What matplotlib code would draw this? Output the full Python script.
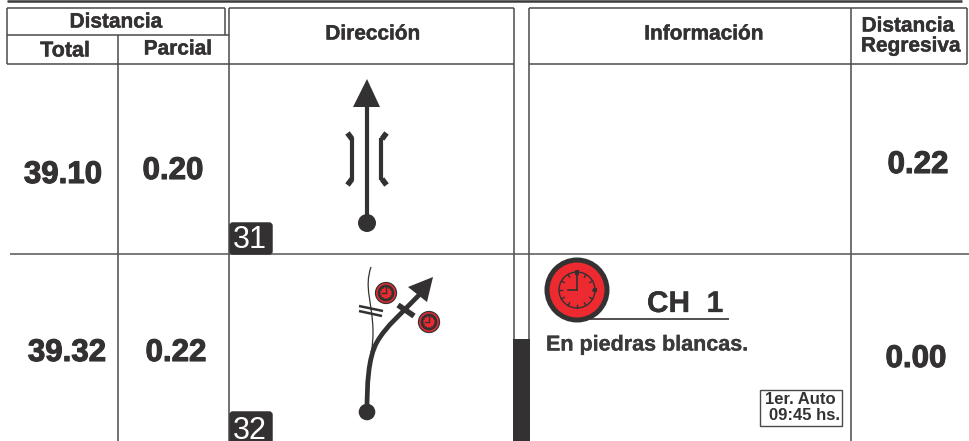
import math
import matplotlib
matplotlib.use("Agg")
import matplotlib.pyplot as plt
import matplotlib.patheffects as pe
from matplotlib.patches import Circle, Polygon, Rectangle, FancyBboxPatch
from matplotlib.path import Path
from matplotlib.patches import PathPatch

plt.rcParams['font.family'] = ['Liberation Sans', 'DejaVu Sans']

DARK = '#333132'
GREY = '#4a4a4a'
RED = '#ed2a30'

header_top = 'Distancia'
header_sub = ['Total', 'Parcial']
header_main = ['Dirección', 'Información']
header_right = ['Distancia', 'Regresiva']
total_km = ['39.10', '39.32']
partial_km = ['0.20', '0.22']
regressive_km = ['0.22', '0.00']
box_numbers = ['31', '32']
ch_label = 'CH  1'
info_text = 'En piedras blancas.'
time_lines = ['1er. Auto', '09:45 hs.']

fig = plt.figure(figsize=(9.69, 4.41), dpi=100)
ax = fig.add_axes([0, 0, 1, 1])
ax.set_xlim(0, 969)
ax.set_ylim(441, 0)
ax.axis('off')


def seg(x0, y0, x1, y1, lw=1.1, c=GREY, z=2, cap='butt'):
    ax.plot([x0, x1], [y0, y1], color=c, lw=lw, solid_capstyle=cap, zorder=z)


def txt(x, y, s, size, c=DARK, ha='center', weight='bold', stroke=0.0, **kw):
    t = ax.text(x, y, s, fontsize=size, color=c, ha=ha, va='center', weight=weight, zorder=6, **kw)
    if stroke:
        t.set_path_effects([pe.withStroke(linewidth=stroke, foreground=c)])
    return t


# top rule
seg(7, 1.2, 962, 1.2, lw=1.8, c='#3a3a3a')
# table frame
seg(7.5, 8, 225.5, 8)
seg(229, 8, 514, 8)
seg(529.5, 8, 967.5, 8)
seg(7.5, 8, 7.5, 64)
seg(225.5, 8, 225.5, 35)
seg(7.5, 35, 229, 35)
seg(7.5, 63.5, 514, 63.5)
seg(529.5, 63.5, 967.5, 63.5)
seg(118, 35, 118, 441)
seg(229, 8, 229, 441)
seg(514, 8, 514, 441)
seg(529.5, 8, 529.5, 441)
seg(851, 8, 851, 441)
seg(967.5, 8, 967.5, 64)
seg(10, 253.5, 969, 253.5, c='#555555')

ax.add_patch(Rectangle((513.5, 339), 17, 102, fc=DARK, ec='none', zorder=3))

# headers
txt(116, 22, header_top, 15, stroke=0.3)
txt(65, 51, header_sub[0], 15.5, stroke=0.3)
txt(178, 49, header_sub[1], 15, stroke=0.3)
txt(373, 34, header_main[0], 15, stroke=0.3)
txt(704, 34, header_main[1], 15, stroke=0.3)
txt(908, 26, header_right[0], 15, stroke=0.3)
txt(911, 46, header_right[1], 15, stroke=0.3)

# values
txt(63, 175, total_km[0], 22.5, stroke=0.8)
txt(67, 353, total_km[1], 22.5, stroke=0.8)
txt(173, 171, partial_km[0], 22.5, stroke=0.8)
txt(176, 353, partial_km[1], 22.5, stroke=0.8)
txt(918, 165, regressive_km[0], 22.5, stroke=0.8)
txt(916, 359, regressive_km[1], 22.5, stroke=0.8)

# numbered boxes
for (y0, y1, s, ty) in [(222, 254, box_numbers[0], 240), (411, 447, box_numbers[1], 431)]:
    ax.add_patch(FancyBboxPatch((231, y0 + 2), 40, y1 - y0 - 3, boxstyle='round,pad=0,rounding_size=2',
                                fc=DARK, ec=DARK, lw=2.5, zorder=4, clip_on=True))
    txt(250, ty, s, 22, c='white', weight='normal')

# roadbook 31
seg(367, 225, 367, 105, lw=3, c=DARK)
ax.add_patch(Polygon([(367, 79), (353, 107), (380, 107)], fc=DARK, ec='none', zorder=4))
ax.add_patch(Circle((367, 223), 9, fc=DARK, ec='none', zorder=4))
for sgn in (-1, 1):
    seg(367 + sgn * 14.5, 138, 367 + sgn * 14.5, 180, lw=3, c=DARK)
    seg(367 + sgn * 15, 139, 367 + sgn * 19.5, 133, lw=4, c=DARK)
    seg(367 + sgn * 15, 179, 367 + sgn * 19.5, 185, lw=4, c=DARK)

# roadbook 32
main_path = Path([(367, 412), (367, 385), (368, 358), (377, 342),
                  (386, 326), (402, 313), (422, 292)],
                 [Path.MOVETO, Path.CURVE4, Path.CURVE4, Path.CURVE4,
                  Path.CURVE4, Path.CURVE4, Path.CURVE4])
ax.add_patch(PathPatch(main_path, fc='none', ec=DARK, lw=3.4, zorder=4))
ax.add_patch(Polygon([(433, 277), (408, 287), (427, 302)], fc=DARK, ec='none', zorder=4))
ax.add_patch(Circle((367, 412), 8.3, fc=DARK, ec='none', zorder=4))
seg(398, 305, 414, 316, lw=4, c=DARK, z=4)
thin_path = Path([(371, 267), (364, 288), (372, 300), (373, 330), (373, 340), (372.5, 347), (371, 352)],
                 [Path.MOVETO, Path.CURVE4, Path.CURVE4, Path.CURVE4, Path.CURVE4, Path.CURVE4, Path.CURVE4])
ax.add_patch(PathPatch(thin_path, fc='none', ec=DARK, lw=0.9, zorder=3))
seg(359, 306, 383, 311, lw=1.8, c=DARK)
seg(359, 311, 382, 316, lw=1.8, c=DARK)


def clock(cx, cy, r, big):
    ring = 3.6 if big else 0.9
    ax.add_patch(Circle((cx, cy), r, fc=RED, ec=DARK, lw=ring, zorder=5))
    inner = (0.6 if big else 0.68) * r
    ax.add_patch(Circle((cx, cy), inner, fc='none', ec=DARK, lw=(1.0 if big else 1.8), zorder=6))
    for k in range(12):
        a = k * math.pi / 6
        ax.plot([cx + inner * 0.82 * math.cos(a), cx + inner * math.cos(a)],
                [cy + inner * 0.82 * math.sin(a), cy + inner * math.sin(a)],
                color=DARK, lw=(1.0 if big else 1.1), zorder=6)
    ax.plot([cx, cx], [cy, cy - inner * 0.9], color=DARK, lw=(1.2 if big else 1.0), zorder=6)
    ax.plot([cx, cx - inner * 0.5], [cy, cy], color=DARK, lw=(1.2 if big else 1.0), zorder=6)
    if big:
        ax.add_patch(Rectangle((cx - 2, cy - inner - 2), 4, 5, fc=DARK, ec='none', zorder=6))
        ax.add_patch(Rectangle((cx + inner - 2, cy - 2), 4, 4, fc=DARK, ec='none', zorder=6))


clock(386, 293, 10.5, False)
clock(429, 322, 10.5, False)
clock(577, 290, 30, True)

# info cell
seg(590, 319, 729, 319, lw=1.2, c=DARK)
txt(685, 304, ch_label, 21.5, stroke=0.2)
txt(546, 345, info_text, 15.5, ha='left', stroke=0.2, c='#3a3a3a')
ax.add_patch(Rectangle((760, 390), 82, 36, fc='white', ec=GREY, lw=1, zorder=4))
txt(800, 400, time_lines[0], 12, c=DARK)
txt(804.5, 416, time_lines[1], 12, c=DARK)

fig.savefig('out.png', dpi=100)
